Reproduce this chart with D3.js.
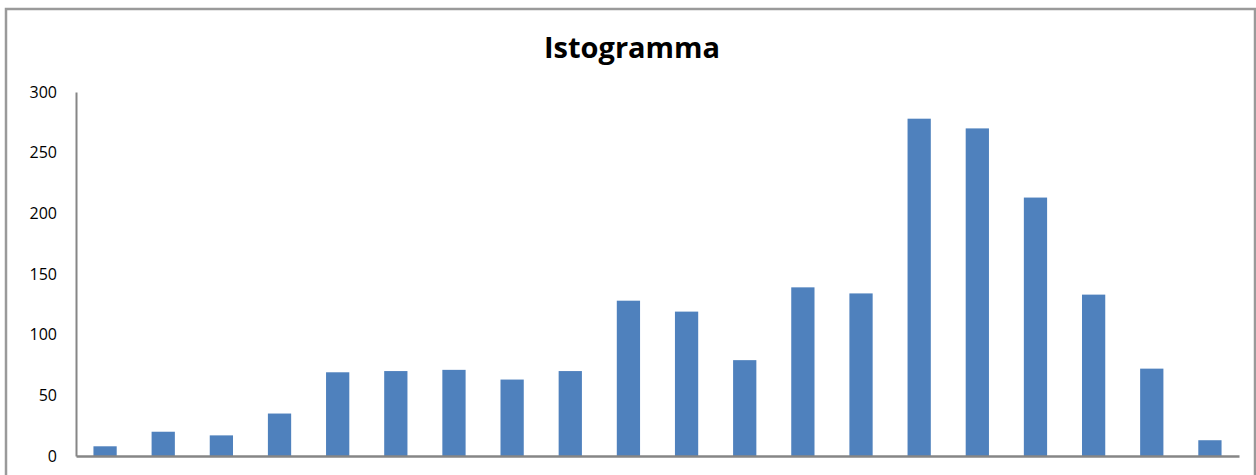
<!DOCTYPE html>
<html>
<head>
<meta charset="utf-8">
<script src="https://cdn.jsdelivr.net/npm/d3@7"></script>
<style>
  body { margin: 0; background: #fff; }
  svg { display: block; }
</style>
</head>
<body>
<script>
// bin index of the histogram and how many fell in each bin
var bins = d3.range(1, 21).map(String);
var counts = [8, 20, 17, 35, 69, 70, 71, 63, 70, 128, 119, 79, 139, 134, 278, 270, 213, 133, 72, 13];
var y_ticks = [0, 50, 100, 150, 200, 250, 300];
var chart_title = "Istogramma";

var w = 1256, h = 475;
var left = 76, right = 1239, top_y = 92, bottom = 456;

var svg = d3.select("body").append("svg")
  .attr("width", w)
  .attr("height", h);

// outer frame of the chart area (cut off at the bottom)
svg.append("rect")
  .attr("x", 6).attr("y", 9)
  .attr("width", 1249).attr("height", 480)
  .attr("fill", "none")
  .attr("stroke", "#9a9a9a")
  .attr("stroke-width", 2.5);

svg.append("text")
  .attr("x", 632).attr("y", 58)
  .attr("text-anchor", "middle")
  .style("font-family", "'Open Sans', sans-serif")
  .style("font-weight", "bold")
  .style("font-size", "29px")
  .attr("fill", "#000")
  .text(chart_title);

var x = d3.scaleBand()
  .domain(bins)
  .range([left, right])
  .paddingInner(0.6)
  .paddingOuter(0.3);

var y = d3.scaleLinear()
  .domain([0, 300])
  .range([bottom, top_y]);

// bars
svg.selectAll(".bar")
  .data(counts)
  .enter().append("rect")
  .attr("class", "bar")
  .attr("x", function(d, i) { return x(bins[i]); })
  .attr("y", function(d) { return y(d); })
  .attr("width", x.bandwidth())
  .attr("height", function(d) { return bottom - y(d); })
  .attr("fill", "#4f81bd");

// y axis, no tick marks
var yAxis = svg.append("g")
  .attr("transform", "translate(" + left + ",0)")
  .call(d3.axisLeft(y).tickValues(y_ticks).tickSize(0).tickPadding(19));
yAxis.select(".domain").attr("stroke", "#868686").attr("stroke-width", 2);
yAxis.selectAll("text")
  .style("font-family", "'Open Sans', sans-serif")
  .style("font-size", "16px")
  .attr("fill", "#000");

// x axis line only
var xAxis = svg.append("g")
  .attr("transform", "translate(0," + bottom + ")")
  .call(d3.axisBottom(x).tickSize(0).tickFormat(""));
xAxis.select(".domain").attr("stroke", "#868686").attr("stroke-width", 2.5);
</script>
</body>
</html>
